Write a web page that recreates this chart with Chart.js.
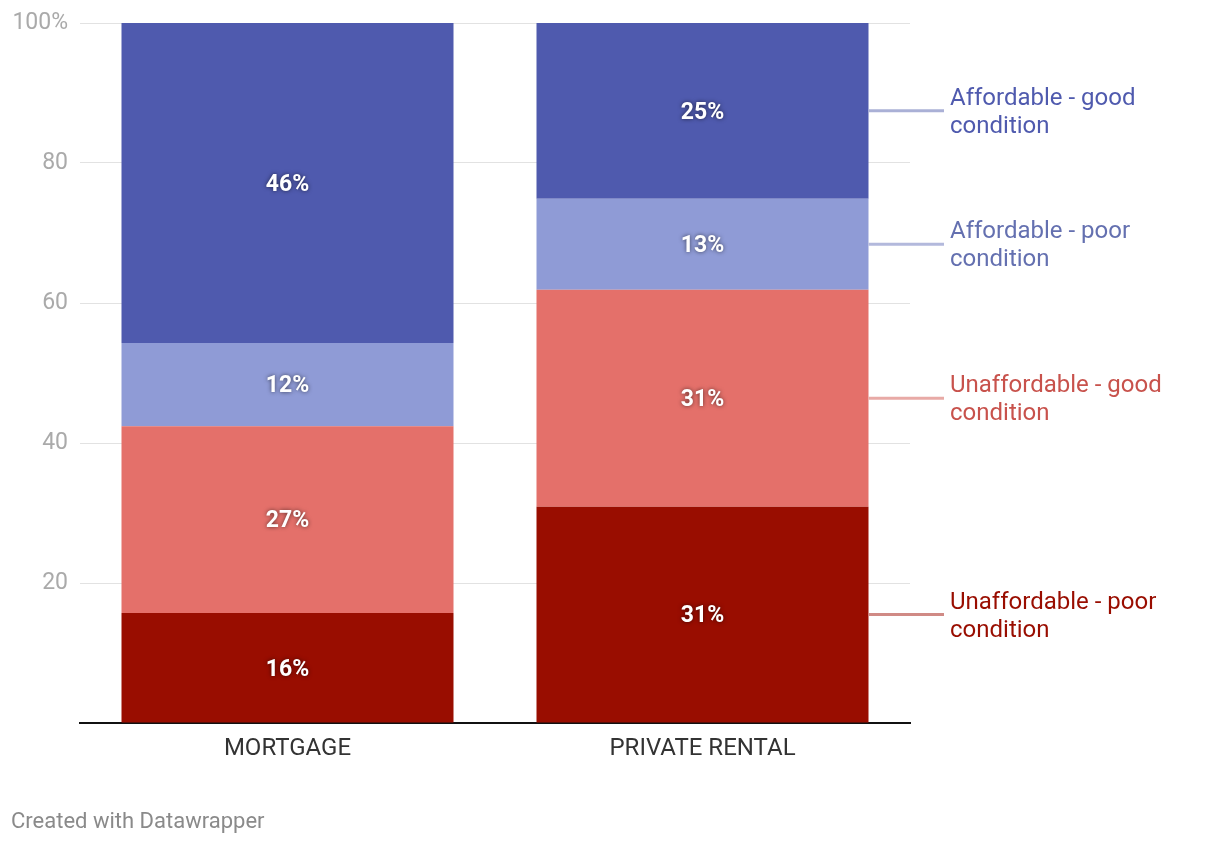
<!DOCTYPE html>
<html>
<head>
<meta charset="utf-8">
<script src="https://cdn.jsdelivr.net/npm/chart.js@4"></script>
<style>
  body { margin: 0; background: #fff; font-family: Roboto, sans-serif; }
  #wrap { position: absolute; left: 0; top: 0; width: 1220px; height: 844px; }
  #credit { position: absolute; left: 11px; top: 808px; font-size: 22px; color: #8a8a8a; }
</style>
</head>
<body>
<div id="wrap"><canvas id="myChart"></canvas></div>
<div id="credit">Created with Datawrapper</div>
<script>
var categories = ['MORTGAGE', 'PRIVATE RENTAL'];

// bottom to top
var seriesNames = ['Unaffordable - poor condition', 'Unaffordable - good condition',
                   'Affordable - poor condition', 'Affordable - good condition'];
var unaffordablePoor = [15.7, 30.9];
var unaffordableGood = [26.7, 31.0];
var affordablePoor = [11.9, 13.0];
var affordableGood = [45.7, 25.1];

var barColors = ['#990d00', '#e4706a', '#8f9bd6', '#4f5aae'];
var labelColors = ['#990d00', '#c8524c', '#6470b0', '#4f5aae'];
var lineColors = ['#d08a85', '#e8aaa6', '#b3b9dc', '#aab0d6'];

var yTicks = [0, 20, 40, 60, 80, 100];

var seriesValues = [unaffordablePoor, unaffordableGood, affordablePoor, affordableGood];

var data = {
  labels: categories,
  datasets: seriesValues.map(function(vals, i) {
    return {
      label: seriesNames[i],
      data: vals,
      backgroundColor: barColors[i],
      borderWidth: 0,
      barPercentage: 0.8,
      categoryPercentage: 1.0
    };
  })
};

// values inside bars + labels on the right of the last bar
var labelPlugin = {
  id: 'labels',
  afterDatasetsDraw: function(chart) {
    var ctx = chart.ctx;
    ctx.save();
    chart.data.datasets.forEach(function(ds, i) {
      var meta = chart.getDatasetMeta(i);
      meta.data.forEach(function(bar, j) {
        var p = bar.getCenterPoint();
        ctx.font = 'bold 23px Roboto';
        ctx.textAlign = 'center';
        ctx.textBaseline = 'middle';
        ctx.shadowColor = 'rgba(0,0,0,0.6)';
        ctx.shadowBlur = 4;
        ctx.fillStyle = '#fff';
        ctx.fillText(Math.round(ds.data[j]) + '%', p.x, p.y + 2);
        ctx.shadowBlur = 0;
        ctx.shadowColor = 'transparent';
      });
      // right side label for last bar
      var last = meta.data[meta.data.length - 1];
      var c = last.getCenterPoint();
      var x0 = last.x + last.width / 2;
      ctx.strokeStyle = lineColors[i];
      ctx.lineWidth = 3;
      ctx.beginPath();
      ctx.moveTo(x0, c.y);
      ctx.lineTo(944, c.y);
      ctx.stroke();
      var words = ds.label.split(' ');
      var line2 = words.pop();
      ctx.font = '24px Roboto';
      ctx.textAlign = 'left';
      ctx.fillStyle = labelColors[i];
      ctx.fillText(words.join(' '), 950, c.y - 12);
      ctx.fillText(line2, 950, c.y + 16);
    });
    ctx.restore();
  }
};

var options = {
  responsive: true,
  maintainAspectRatio: false,
  animation: false,
  layout: { padding: { left: 0, right: 310, top: 23, bottom: 61 } },
  plugins: { legend: { display: false }, tooltip: { enabled: false } },
  scales: {
    x: {
      stacked: true,
      grid: { display: false },
      border: { display: true, color: '#111', width: 2 },
      ticks: { color: '#333', font: { family: 'Roboto', size: 24 }, padding: 4 },
      afterFit: function(scale) { scale.height = 60; }
    },
    y: {
      stacked: true,
      min: 0,
      max: 100,
      afterBuildTicks: function(scale) {
        scale.ticks = yTicks.map(function(v) { return { value: v }; });
      },
      grid: { color: '#e2e2e2', lineWidth: 1, drawTicks: false },
      border: { display: false },
      ticks: {
        color: '#aaa',
        font: { family: 'Roboto', size: 23 },
        padding: 12,
        callback: function(v) {
          if (v === 0) return '';
          return v === 100 ? '100%' : v;
        }
      },
      afterFit: function(scale) {
        scale.width = 80;
        scale.paddingTop = 0;
        scale.paddingBottom = 0;
      }
    }
  }
};

document.addEventListener("DOMContentLoaded", function(event) {
  var ctx = document.getElementById('myChart').getContext('2d');
  var myBarChart = new Chart(ctx, {
    type: 'bar',
    data: data,
    options: options,
    plugins: [labelPlugin]
  });
});
</script>
</body>
</html>
